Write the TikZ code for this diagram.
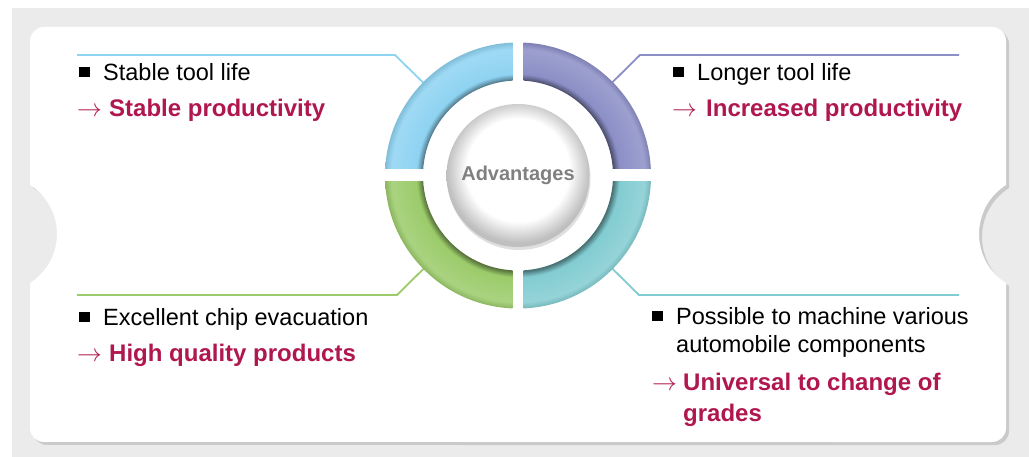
\documentclass[tikz,border=0pt]{standalone}
\usepackage{fontspec}
\setmainfont{Liberation Sans}
\usepackage{tikz}
\usetikzlibrary{shadows}
\definecolor{crimson}{HTML}{B0174F}
\definecolor{segblue}{HTML}{8ED3F2}
\definecolor{segpurple}{HTML}{8B8FC6}
\definecolor{seggreen}{HTML}{9BCB6A}
\definecolor{segteal}{HTML}{82CCD1}
\colorlet{segblue dark}{segblue!55!black}
\colorlet{segpurple dark}{segpurple!55!black}
\colorlet{seggreen dark}{seggreen!55!black}
\colorlet{segteal dark}{segteal!55!black}
\colorlet{segblue lite}{segblue!85!white}
\colorlet{segpurple lite}{segpurple!85!white}
\colorlet{seggreen lite}{seggreen!85!white}
\colorlet{segteal lite}{segteal!85!white}
\colorlet{backdrop}{black!8}

% ring shading: 25bp = outer radius, 17.9bp = inner radius
\newcommand\ringshading[1]{%
  \pgfdeclareradialshading{#1 ring}{\pgfpointorigin}{%
    color(0bp)=(#1 dark); color(17.9bp)=(#1 dark); color(19.1bp)=(#1);
    color(23.8bp)=(#1 lite); color(25bp)=(#1!90!black); color(50bp)=(#1!90!black)}}
\ringshading{segblue}
\ringshading{segpurple}
\ringshading{seggreen}
\ringshading{segteal}
\pgfdeclareradialshading{hubshade}{\pgfpoint{0bp}{3bp}}{%
  color(0bp)=(white); color(18bp)=(white); color(25bp)=(black!25); color(50bp)=(black!25)}

\newcommand\sqbul{\raisebox{4bp}{\rule{11bp}{10bp}}\hspace{13bp}}
\newcommand\redarr[1]{\makebox[#1][l]{$\rightarrow$}}

\tikzset{
  card/.style={fill=white,
    drop shadow={opacity=0.3, shadow xshift=3bp, shadow yshift=-3bp}},
  ln/.style={line width=1.8bp, shorten >=125bp},
  hub/.style={circle, minimum size=143bp, inner sep=0, shade, shading=hubshade,
    drop shadow={opacity=0.25, shadow xshift=1bp, shadow yshift=-3bp},
    text=black!50, font=\bfseries\fontsize{20bp}{24bp}\selectfont},
  blk/.style={anchor=base west, inner sep=0, font=\fontsize{23.5bp}{28bp}\selectfont},
  redtxt/.style={anchor=base west, inner sep=0, text=crimson,
    font=\bfseries\fontsize{24bp}{29bp}\selectfont}
}

\begin{document}
\begin{tikzpicture}[x=1bp, y=-1bp]
\useasboundingbox (0,0) rectangle (1029,457);
\fill[backdrop] (12,8) rectangle (1029,457);
% card with a notch on each side
\path[card] (30,185) -- (30,41) arc[start angle=180, end angle=90, radius=14bp]
  -- (992,27) arc[start angle=90, end angle=0, radius=14bp] -- (1006,185)
  arc[start angle=122.3, end angle=237.7, radius=58bp]
  -- (1006,428) arc[start angle=0, end angle=-90, radius=14bp]
  -- (44,442) arc[start angle=270, end angle=180, radius=14bp] -- (30,283)
  arc[start angle=-57.7, end angle=57.7, radius=58bp] -- cycle;

\coordinate (ctr) at (518,175.5);
\coordinate (tlA) at (77,55);   \coordinate (tlB) at (395,55);
\coordinate (trA) at (959,55);  \coordinate (trB) at (640,55);
\coordinate (blA) at (77,295);  \coordinate (blB) at (397,295);
\coordinate (brA) at (959,295); \coordinate (brB) at (639,295);

% leader lines, run in under the ring
\draw[ln, segblue]   (tlA) -- (tlB) -- (ctr);
\draw[ln, segpurple] (trA) -- (trB) -- (ctr);
\draw[ln, seggreen]  (blA) -- (blB) -- (ctr);
\draw[ln, segteal]   (brA) -- (brB) -- (ctr);

% four ring pieces
\foreach \sx/\sy/\shd in {-1/-1/segblue, 1/-1/segpurple, -1/1/seggreen, 1/1/segteal}{
  \begin{scope}
    \clip ([shift={(\sx*5.5,\sy*6.5)}]ctr) rectangle ++(\sx*140,\sy*140);
    \shade[shading=\shd\space ring, even odd rule] (ctr) circle[radius=133] (ctr) circle[radius=95];
  \end{scope}
}
\node[hub] (adv) at (ctr) {Advantages};

% texts
\node[blk] (tl1) at (79,81) {\sqbul Stable tool life};
\node[redtxt] (tl2) at (77,117) {\redarr{32bp}Stable productivity};
\node[blk] (tr1) at (673,81) {\sqbul Longer tool life};
\node[redtxt] (tr2) at (672,117) {\redarr{34bp}Increased productivity};
\node[blk] (bl1) at (79,326) {\sqbul Excellent chip evacuation};
\node[redtxt] (bl2) at (77,362) {\redarr{32bp}High quality products};
\node[blk] (br1) at (652,325) {\sqbul Possible to machine various};
\node[blk] (br2) at (676,353) {automobile components};
\node[redtxt] (br3) at (652,391) {\redarr{31bp}Universal to change of};
\node[redtxt] (br4) at (683,421) {grades};
\end{tikzpicture}
\end{document}
